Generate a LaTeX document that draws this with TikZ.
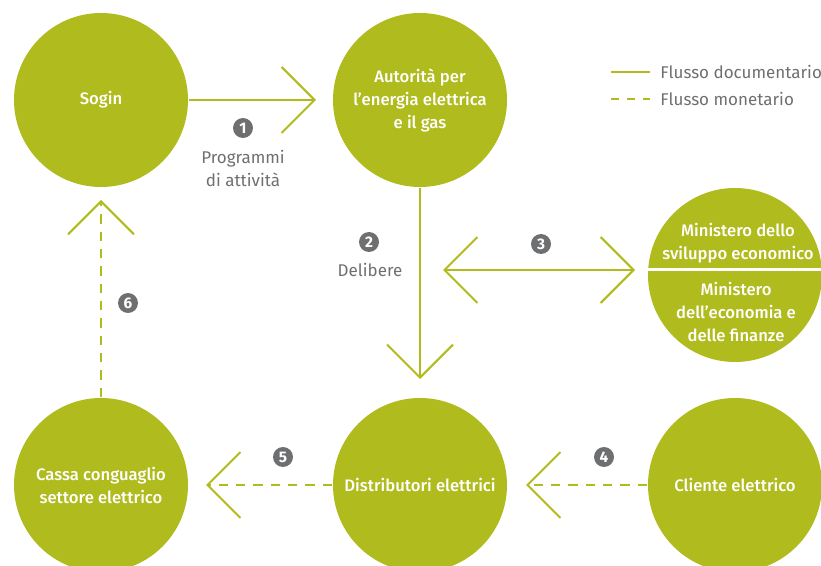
\documentclass[tikz,border=0pt]{standalone}
\usepackage{fontspec}
\setmainfont{Fira Sans}
\newfontfamily\medio{Fira Sans Medium}
\usetikzlibrary{arrows.meta}
\definecolor{verdeoliva}{RGB}{176,187,30}
\definecolor{grigio}{RGB}{110,111,113}
\begin{document}
\begin{tikzpicture}[x=0.75pt, y=-0.75pt, line width=1.5pt, line join=round,
		>={Straight Barb[length=24.75pt, width=49.5pt]},
		tondo/.style={circle, fill=verdeoliva, minimum size=130.5pt, inner sep=0pt, text=white, align=center, font=\medio\fontsize{12.5}{17.25}\selectfont},
		numero/.style={circle, fill=grigio, minimum size=15pt, inner sep=0pt, text=white, font=\fontsize{11.5}{11.5}\selectfont\bfseries},
		etichetta/.style={text=grigio, align=center, font=\fontsize{12.75}{17.25}\selectfont},
		doc/.style={draw=verdeoliva},
		mon/.style={draw=verdeoliva, dash pattern=on 7pt off 6pt}]
		\useasboundingbox (0,0) rectangle (821,566);
		% cerchi
		\node[tondo] (sogin) at (101,100) {Sogin};
		\node[tondo] (aut) at (420,100) {Autorità per\\l’energia elettrica\\e il gas};
		\node[tondo] (mise) at (735,275) {};
		\node[tondo] (cassa) at (101,485) {Cassa conguaglio\\settore elettrico};
		\node[tondo] (distr) at (420,485) {Distributori elettrici};
		\node[tondo] (cliente) at (735,485) {Cliente elettrico};
		\coordinate (tre) at (443,270);
		\draw[white, line width=2.25pt] (mise.west |- tre) -- ++(180,0);
		\node[tondo, fill=none, minimum size=0pt] (mise1) at (738,243) {Ministero dello\\sviluppo economico};
		\node[tondo, fill=none, minimum size=0pt] (mise2) at (736,312) {Ministero\\dell’economia e\\delle finanze};
		% flussi
		\draw[doc, ->, shorten >=12pt] (sogin) -- (aut);
		\draw[doc, ->, shorten >=13.5pt] (aut) -- (distr);
		\draw[doc, <->, shorten >=9pt] (tre) -- (tre -| mise.west);
		\draw[mon, ->, shorten >=13.5pt] (cliente) -- (distr);
		\draw[mon, ->, shorten >=12.75pt] (distr) -- (cassa);
		\draw[mon, ->, shorten >=9pt] (cassa) -- (sogin);
		% numeri
		\node[numero] (n1) at (243,128) {1};
		\node[etichetta] (programmi) at (243,168) {Programmi\\di attività};
		\node[numero] (n2) at (369,242) {2};
		\node[etichetta] (delibere) at (370,270) {Delibere};
		\node[numero] (n3) at (541,244) {3};
		\node[numero] (n4) at (604,457) {4};
		\node[numero] (n5) at (283,457) {5};
		\node[numero] (n6) at (128,303) {6};
		% legenda
		\draw[doc] (611,72) -- (650,72);
		\draw[draw=verdeoliva, dash pattern=on 6pt off 6pt] (611,99) -- (650,99);
		\node[etichetta, anchor=west] (leg1) at (655,72) {Flusso documentario};
		\node[etichetta, anchor=west] (leg2) at (655,99) {Flusso monetario};
\end{tikzpicture}
\end{document}
